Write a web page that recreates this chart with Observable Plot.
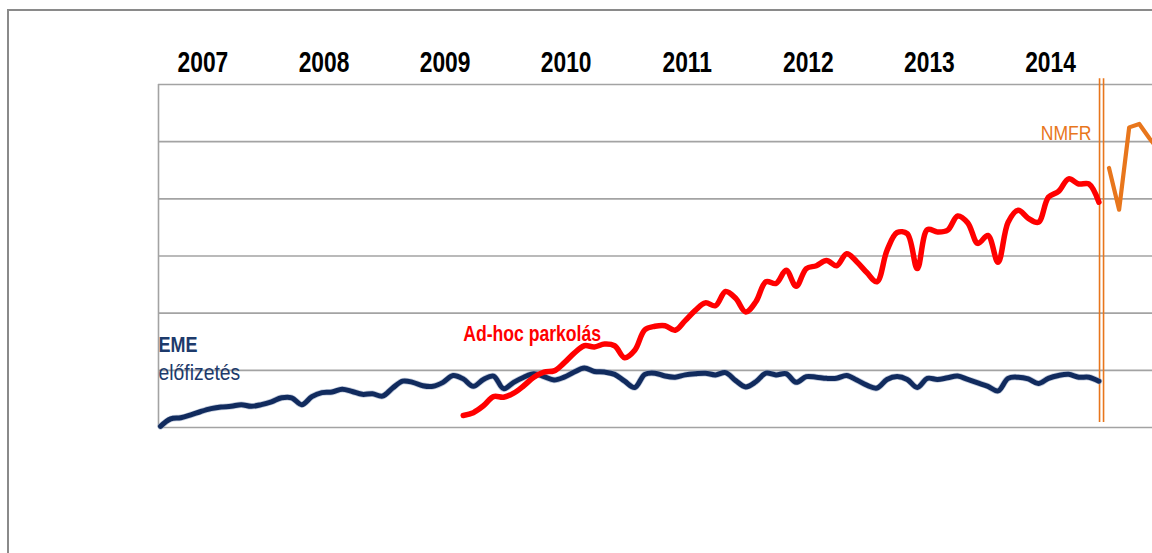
<!DOCTYPE html>
<html><head><meta charset="utf-8">
<script src="https://cdn.jsdelivr.net/npm/d3@7"></script>
<script src="https://cdn.jsdelivr.net/npm/@observablehq/plot@0.6"></script>
<style>
html,body{margin:0;padding:0;background:#fff;overflow:hidden;width:1152px;height:553px}
#wrap{position:relative;width:1152px;height:553px;overflow:hidden}
#border{position:absolute;left:7px;top:9px;width:2000px;height:2000px;border-left:2.5px solid #8a8a8a;border-top:2.5px solid #8a8a8a;pointer-events:none}
#wrap svg{position:absolute;left:0;top:0}
</style></head><body><div id="wrap"><div id="border"></div></div>
<script>
// Year labels along the top
const years = [2007, 2008, 2009, 2010, 2011, 2012, 2013, 2014];
// Monthly series, index = months since January 2007
const emeStart = 0;
const eme = [2,15,17,22,28,33,36,37,40,37, 40,45,52,52,40,54,61,62,67,63,
             58,59,55,69,81,79,73,72,79,91, 85,72,84,90,68,79,88,94,89,83,
             88,97,104,98,97,93,81,70,93,95, 90,88,92,94,95,92,96,82,71,80,
             95,92,94,79,89,88,86,86,91,83, 74,69,84,89,84,70,86,84,87,90,
             84,78,72,64,86,88,85,77,86,91, 93,88,88,81];
const adhocStart = 30;
const adhoc = [21,26,38,54,53,60,73,88,97,99, 113,130,143,141,146,143,122,135,171,177,
               178,170,187,205,218,213,238,226,202,220, 255,252,275,247,278,283,292,283,304,290,
               271,255,310,341,339,278,346,342,345,370, 358,322,336,289,359,380,366,359,403,413,
               435,426,426,394];
const nmfrStart = 94;
const nmfr = [454, 381, 525, 531, 506, 483];
// Horizontal gridline values (no labels shown)
const gridValues = [0, 100, 200, 300, 400, 500, 600];
// Series labels
const labelEME1 = "EME";
const labelEME2 = "előfizetés";
const labelAdhoc = "Ad-hoc parkolás";
const labelNMFR = "NMFR";

const navy = "#112b5e", red = "#ff0000", orange = "#e8761c", grid = "#a3a3a3";
const toRows = (arr, start) => arr.map((v, i) => ({m: start + i, v}));
const emeRows = toRows(eme, emeStart);
const adhocRows = toRows(adhoc, adhocStart);
const nmfrRows = toRows(nmfr, nmfrStart);
const xMin = -0.2, xMax = 98.31;
const sepM = nmfrStart - 0.74;

const chart = Plot.plot({
  width: 1152, height: 553,
  marginLeft: 158, marginRight: 0, marginTop: 84, marginBottom: 126,
  x: {domain: [xMin, xMax], axis: null},
  y: {domain: [0, 600], axis: null},
  style: {fontFamily: "'Liberation Sans', Arial, sans-serif", background: "transparent", overflow: "visible"},
  marks: [
    Plot.ruleY(gridValues, {stroke: grid, strokeWidth: 1.6}),
    Plot.ruleX([xMin], {y1: 0, y2: 600, stroke: grid, strokeWidth: 1.6}),
    Plot.ruleX([sepM], {y1: 8.7, y2: 610, dx: -2, stroke: orange, strokeWidth: 1.6}),
    Plot.ruleX([sepM], {y1: 8.7, y2: 610, dx: 2, stroke: orange, strokeWidth: 1.6}),
    Plot.line(emeRows, {x: "m", y: "v", stroke: "#9aa8c4", strokeWidth: 6.5, strokeOpacity: 0.6, curve: "catmull-rom"}),
    Plot.line(emeRows, {x: "m", y: "v", stroke: navy, strokeWidth: 5, curve: "catmull-rom"}),
    Plot.line(adhocRows, {x: "m", y: "v", stroke: red, strokeWidth: 5.5, curve: "catmull-rom"}),
    Plot.line(nmfrRows, {x: "m", y: "v", stroke: orange, strokeWidth: 4.2, curve: "linear", clip: true}),
    Plot.text(years, {x: d => (d - 2007) * 12 + 4.2, frameAnchor: "top", dy: -13, lineAnchor: "bottom",
      text: d => String(d), fontSize: 30, fontWeight: "bold", fill: "#000"}),
    Plot.text([{m: xMin, v: 132, t: labelEME1}], {x: "m", y: "v", text: "t", textAnchor: "start", lineAnchor: "bottom",
      fontSize: 22.5, fontWeight: "bold", fill: "#1d3a6b"}),
    Plot.text([{m: xMin, v: 83, t: labelEME2}], {x: "m", y: "v", text: "t", textAnchor: "start", lineAnchor: "bottom",
      fontSize: 22, fill: "#1d3a6b"}),
    Plot.text([{m: adhocStart, v: 152, t: labelAdhoc}], {x: "m", y: "v", text: "t", textAnchor: "start", lineAnchor: "bottom",
      fontSize: 22, fontWeight: "bold", fill: red}),
    Plot.text([{m: sepM, v: 500, t: labelNMFR}], {x: "m", y: "v", text: "t", textAnchor: "end", lineAnchor: "bottom",
      dx: -10, dy: -1.5, fontSize: 20, fill: orange})
  ]
});

chart.querySelectorAll("text").forEach(t => {
  const s = t.textContent;
  let sx = 0.8;
  if (/^\d{4}$/.test(s)) sx = 0.76;
  else if (s === labelEME2 || s === labelNMFR) sx = 0.88;
  const tr = t.getAttribute("transform");
  if (tr) {
    t.setAttribute("transform", tr + ` scale(${sx},1)`);
  } else {
    const x = parseFloat(t.getAttribute("x")) || 0;
    const yAttr = t.getAttribute("y");
    const y = yAttr && !/em$/.test(yAttr) ? parseFloat(yAttr) : 0;
    if (t.hasAttribute("x")) t.removeAttribute("x");
    if (yAttr && !/em$/.test(yAttr)) t.removeAttribute("y");
    t.setAttribute("transform", `translate(${x},${y}) scale(${sx},1)`);
  }
});
document.getElementById("wrap").appendChild(chart);
</script></body></html>
